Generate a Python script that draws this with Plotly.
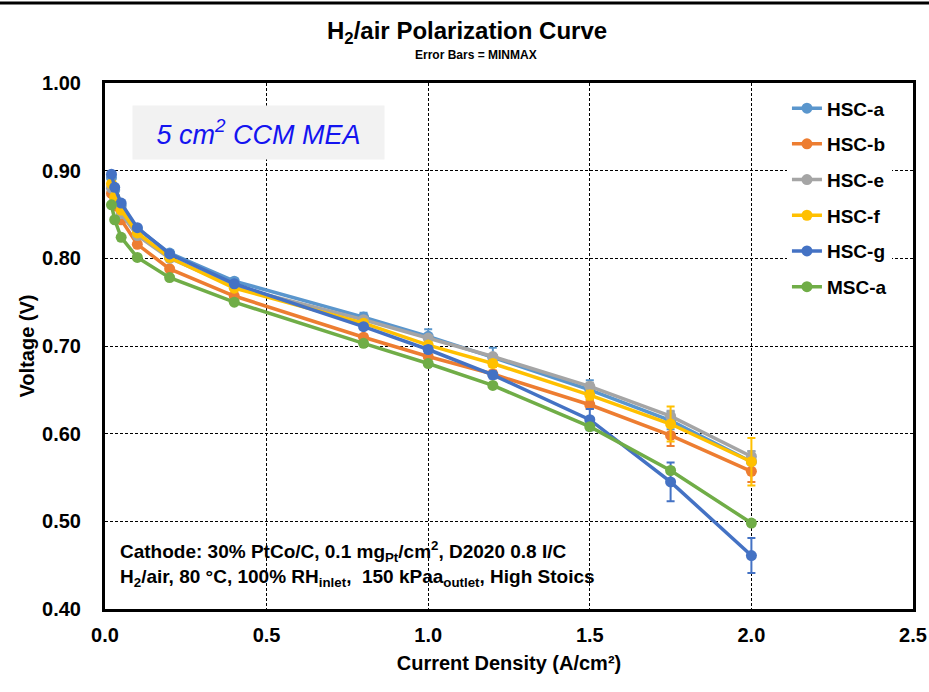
import plotly.graph_objects as go

current = [0.02, 0.03, 0.05, 0.1, 0.2, 0.4, 0.8, 1.0, 1.2, 1.5, 1.75, 2.0]

series_names = ["HSC-a", "HSC-b", "HSC-e", "HSC-f", "HSC-g", "MSC-a"]
colors = ["#5A96CD", "#ED7D31", "#A5A5A5", "#FFC000", "#4472C4", "#70AD47"]

hsc_a = [0.892, 0.878, 0.860, 0.834, 0.806, 0.774, 0.733, 0.711, 0.687, 0.650, 0.615, 0.568]
hsc_b = [0.874, 0.860, 0.844, 0.816, 0.788, 0.757, 0.710, 0.688, 0.668, 0.633, 0.598, 0.557]
hsc_e = [0.880, 0.866, 0.851, 0.826, 0.800, 0.768, 0.730, 0.709, 0.688, 0.654, 0.620, 0.574]
hsc_f = [0.885, 0.870, 0.855, 0.829, 0.801, 0.766, 0.726, 0.701, 0.680, 0.644, 0.611, 0.568]
hsc_g = [0.896, 0.881, 0.863, 0.835, 0.805, 0.771, 0.722, 0.696, 0.667, 0.616, 0.545, 0.461]
msc_a = [0.861, 0.844, 0.824, 0.801, 0.778, 0.750, 0.703, 0.680, 0.655, 0.608, 0.558, 0.498]

err_a = [0.0, 0.0, 0.0, 0.0, 0.003, 0.003, 0.005, 0.008, 0.011, 0.011, 0.010, 0.012]
err_b = [0.0, 0.0, 0.0, 0.0, 0.0, 0.0, 0.003, 0.004, 0.004, 0.005, 0.012, 0.012]
err_e = [0.0, 0.0, 0.0, 0.0, 0.0, 0.0, 0.002, 0.002, 0.003, 0.004, 0.006, 0.006]
err_f = [0.0, 0.0, 0.0, 0.0, 0.0, 0.0, 0.002, 0.003, 0.004, 0.005, 0.020, 0.027]
err_g = [0.0, 0.0, 0.0, 0.0, 0.0, 0.0, 0.003, 0.004, 0.004, 0.012, 0.022, 0.020]
err_m = [0.0, 0.0, 0.0, 0.0, 0.0, 0.0, 0.002, 0.002, 0.002, 0.003, 0.003, 0.003]

values = [hsc_a, hsc_b, hsc_e, hsc_f, hsc_g, msc_a]
errors = [err_a, err_b, err_e, err_f, err_g, err_m]

x_ticks = [0.0, 0.5, 1.0, 1.5, 2.0, 2.5]
y_ticks = [0.40, 0.50, 0.60, 0.70, 0.80, 0.90, 1.00]

FONT = "Arial, Liberation Sans, sans-serif"
L = 105
PW = 808  # plot width in px

fig = go.Figure()
for name, col, v, e in zip(series_names, colors, values, errors):
    fig.add_trace(go.Scatter(
        x=current, y=v, name=name, mode="lines+markers",
        legendgroup=name,
        line=dict(color=col, width=3.5),
        marker=dict(color=col, size=11),
        error_y=dict(type="data", array=e, visible=True, color=col,
                     thickness=2, width=4),
    ))

fig.update_layout(
    width=929, height=692,
    margin=dict(l=L, r=929 - L - PW, t=83, b=83),
    paper_bgcolor="white", plot_bgcolor="white",
    font=dict(family=FONT, color="black"),
    showlegend=True,
    legend=dict(x=0.844, y=0.988, xanchor="left", yanchor="top",
                bgcolor="white", borderwidth=0,
                font=dict(size=19, weight="bold", family=FONT),
                tracegroupgap=8, itemwidth=30),
    xaxis=dict(range=[0, 2.5], tickvals=x_ticks, tickformat=".1f",
               showgrid=True, gridcolor="black", gridwidth=1, griddash="3px,2px",
               showline=True, linecolor="black", linewidth=2.5, mirror=True,
               ticks="", zeroline=False, ticklabeloverflow="allow",
               automargin=False,
               tickfont=dict(size=20, weight="bold", family=FONT),
               ticklabelstandoff=6,
               title=dict(text="Current Density (A/cm²)", standoff=12,
                          font=dict(size=20, weight="bold", family=FONT))),
    yaxis=dict(range=[0.40, 1.00], tickvals=y_ticks, tickformat=".2f",
               showgrid=True, gridcolor="black", gridwidth=1, griddash="3px,2px",
               showline=True, linecolor="black", linewidth=3, mirror=True,
               ticks="", zeroline=False, automargin=False,
               tickfont=dict(size=20, weight="bold", family=FONT),
               ticklabelstandoff=17,
               title=dict(text="Voltage (V)", standoff=3,
                          font=dict(size=20, weight="bold", family=FONT))),
)

fig.add_annotation(xref="paper", yref="paper", x=(467 - L) / PW, y=1 + (83 - 33) / 526,
                   text="H<sub>2</sub>/air Polarization Curve", showarrow=False,
                   xanchor="center", yanchor="middle",
                   font=dict(size=24, weight="bold", family=FONT))
fig.add_annotation(xref="paper", yref="paper", x=(476 - L) / PW, y=1 + (83 - 55) / 526,
                   text="Error Bars = MINMAX", showarrow=False,
                   xanchor="center", yanchor="middle",
                   font=dict(size=12, weight="bold", family=FONT))

fig.add_annotation(xref="paper", yref="paper", x=(132 - L) / PW, y=1 - (105 - 83) / 526,
                   text="<i>5 cm<sup>2</sup> CCM MEA</i>", showarrow=False,
                   xanchor="left", yanchor="top", align="center",
                   bgcolor="#F2F2F2", width=241, height=43, borderpad=5,
                   font=dict(size=27, color="#1414F0", family=FONT))

fig.add_annotation(xref="paper", yref="paper", x=(118 - L) / PW, y=(609 - 536) / 526,
                   text="Cathode: 30% PtCo/C, 0.1 mg<sub>Pt</sub>/cm<sup>2</sup>, D2020 0.8 I/C<br>"
                        "H<sub>2</sub>/air, 80 °C, 100% RH<sub>inlet</sub>,  150 kPaa<sub>outlet</sub>, High Stoics",
                   showarrow=False, xanchor="left", yanchor="top", align="left",
                   font=dict(size=19, weight="bold", family=FONT))

fig.add_shape(type="line", xref="paper", yref="paper",
              x0=-0.14, x1=1.03, y0=1 + 80 / 526, y1=1 + 80 / 526,
              line=dict(color="black", width=3))

fig.write_html("out.html")
